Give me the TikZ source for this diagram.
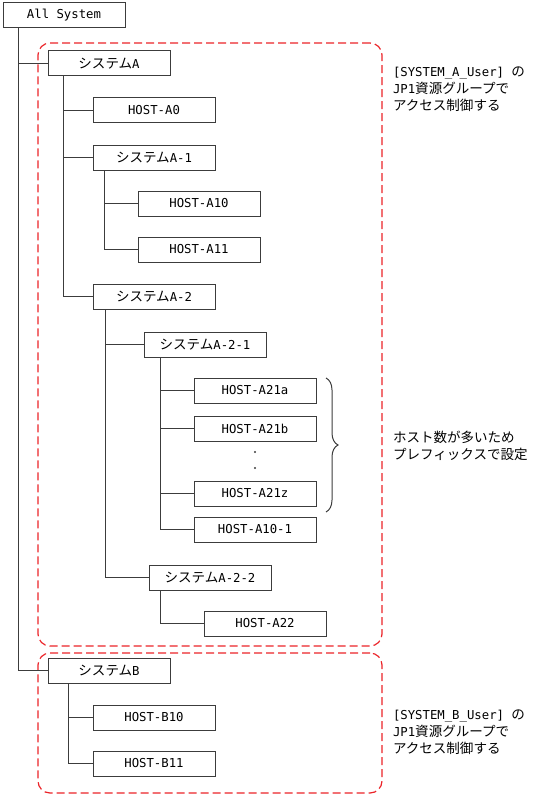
\documentclass[tikz,border=0pt]{standalone}
\usepackage{fontspec}
\setmainfont{DejaVu Sans Mono}
\newfontfamily\jp{Noto Sans CJK JP}[Scale=1.1]
\usepackage{tikz}
\usetikzlibrary{shapes,fit,positioning,decorations.pathreplacing}
\definecolor{grpred}{RGB}{235,35,40}
\definecolor{linegray}{RGB}{60,60,60}
\def\Sys{{\jp システム}}

\begin{document}
\begin{tikzpicture}[x=1pt,y=-1pt,% pixel-like units, y grows downwards
			every node/.style={
				inner sep=0pt, outer sep=0pt,	% anchors sit right on the border
				font=\fontsize{12.3}{17}\selectfont
			},
			box/.style={rectangle,draw=linegray,line width=1pt,fill=white,minimum width=122pt,minimum height=25pt},
			groupbox/.style={rectangle,draw=grpred,line width=1.2pt,dash pattern=on 8pt off 4pt,rounded corners=12pt},
			note/.style={align=left,anchor=north west},
			branch/.style={to path={|- (\tikztotarget)}},
			every edge/.style={draw,line width=1pt,linegray}
		]
		\useasboundingbox (0,0) rectangle (539,797);
		% the tree
		\node[box,anchor=north west](AllSys) at (3,3){All System};
		\node[box](SysA)[below right=23pt and 45pt of AllSys.south west]{\Sys A};
		\node[box](HostA0)[below right=22pt and 45pt of SysA.south west]{HOST-A0};
		\node[box](SysA1)[below right=22pt and 0pt of HostA0.south west]{\Sys A-1};
		\node[box](HostA10)[below right=21pt and 45pt of SysA1.south west]{HOST-A10};
		\node[box](HostA11)[below right=21pt and 0pt of HostA10.south west]{HOST-A11};
		\node[box](SysA2)[below right=22pt and -45pt of HostA11.south west]{\Sys A-2};
		\node[box](SysA21)[below right=23pt and 51pt of SysA2.south west]{\Sys A-2-1};
		\node[box](HostA21a)[below right=21pt and 50pt of SysA21.south west]{HOST-A21a};
		\node[box](HostA21b)[below right=13pt and 0pt of HostA21a.south west]{HOST-A21b};
		\node[box](HostA21z)[below right=40pt and 0pt of HostA21b.south west]{HOST-A21z};
		\node[box](HostA101)[below right=11pt and 0pt of HostA21z.south west]{HOST-A10-1};
		\node[box](SysA22)[below right=23pt and -45pt of HostA101.south west]{\Sys A-2-2};
		\node[box](HostA22)[below right=21pt and 55pt of SysA22.south west]{HOST-A22};
		\node[box](SysB)[below right=22pt and -156pt of HostA22.south west]{\Sys B};
		\node[box](HostB10)[below right=22pt and 45pt of SysB.south west]{HOST-B10};
		\node[box](HostB11)[below right=21pt and 0pt of HostB10.south west]{HOST-B11};
		\fill[linegray] ([yshift=-11pt]HostA21b.south) circle (1.2pt)
			([yshift=-27pt]HostA21b.south) circle (1.2pt);
		% access groups
		\node[groupbox,minimum width=344pt,minimum height=603pt](GrpA)[below right=15pt and 35pt of AllSys.south west]{};
		\node[groupbox,minimum width=344pt,minimum height=140pt](GrpB)[below right=7pt and 0pt of GrpA.south west]{};
		\node[note](NoteA)[below right=24pt and 11pt of GrpA.north east]{[SYSTEM\_A\_User] {\jp の}\\JP1{\jp 資源グループで}\\{\jp アクセス制御する}};
		\node[note](NoteB)[below right=57pt and 11pt of GrpB.north east]{[SYSTEM\_B\_User] {\jp の}\\JP1{\jp 資源グループで}\\{\jp アクセス制御する}};
		\node[note](NoteHosts)[below right=15pt and 77pt of HostA21b.north east]{{\jp ホスト数が多いため}\\{\jp プレフィックスで設定}};
		\draw[linegray,line width=1pt,decorate,decoration={brace,amplitude=12pt}]
			([xshift=10pt]HostA21a.north east) -- ([shift={(10pt,-6pt)}]HostA21z.south east);
		% connectors
		\path
		([xshift=15pt]AllSys.south west) edge[branch] (SysA.west) edge[branch] (SysB.west)
		([xshift=15pt]SysA.south west) edge[branch] (HostA0.west) edge[branch] (SysA1.west) edge[branch] (SysA2.west)
		([xshift=11pt]SysA1.south west) edge[branch] (HostA10.west) edge[branch] (HostA11.west)
		([xshift=12pt]SysA2.south west) edge[branch] (SysA21.west) edge[branch] (SysA22.west)
		([xshift=16pt]SysA21.south west) edge[branch] (HostA21a.west) edge[branch] (HostA21b.west)
			edge[branch] (HostA21z.west) edge[branch] (HostA101.west)
		([xshift=11pt]SysA22.south west) edge[branch] (HostA22.west)
		([xshift=20pt]SysB.south west) edge[branch] (HostB10.west) edge[branch] (HostB11.west)
		;
	\end{tikzpicture}
\end{document}
